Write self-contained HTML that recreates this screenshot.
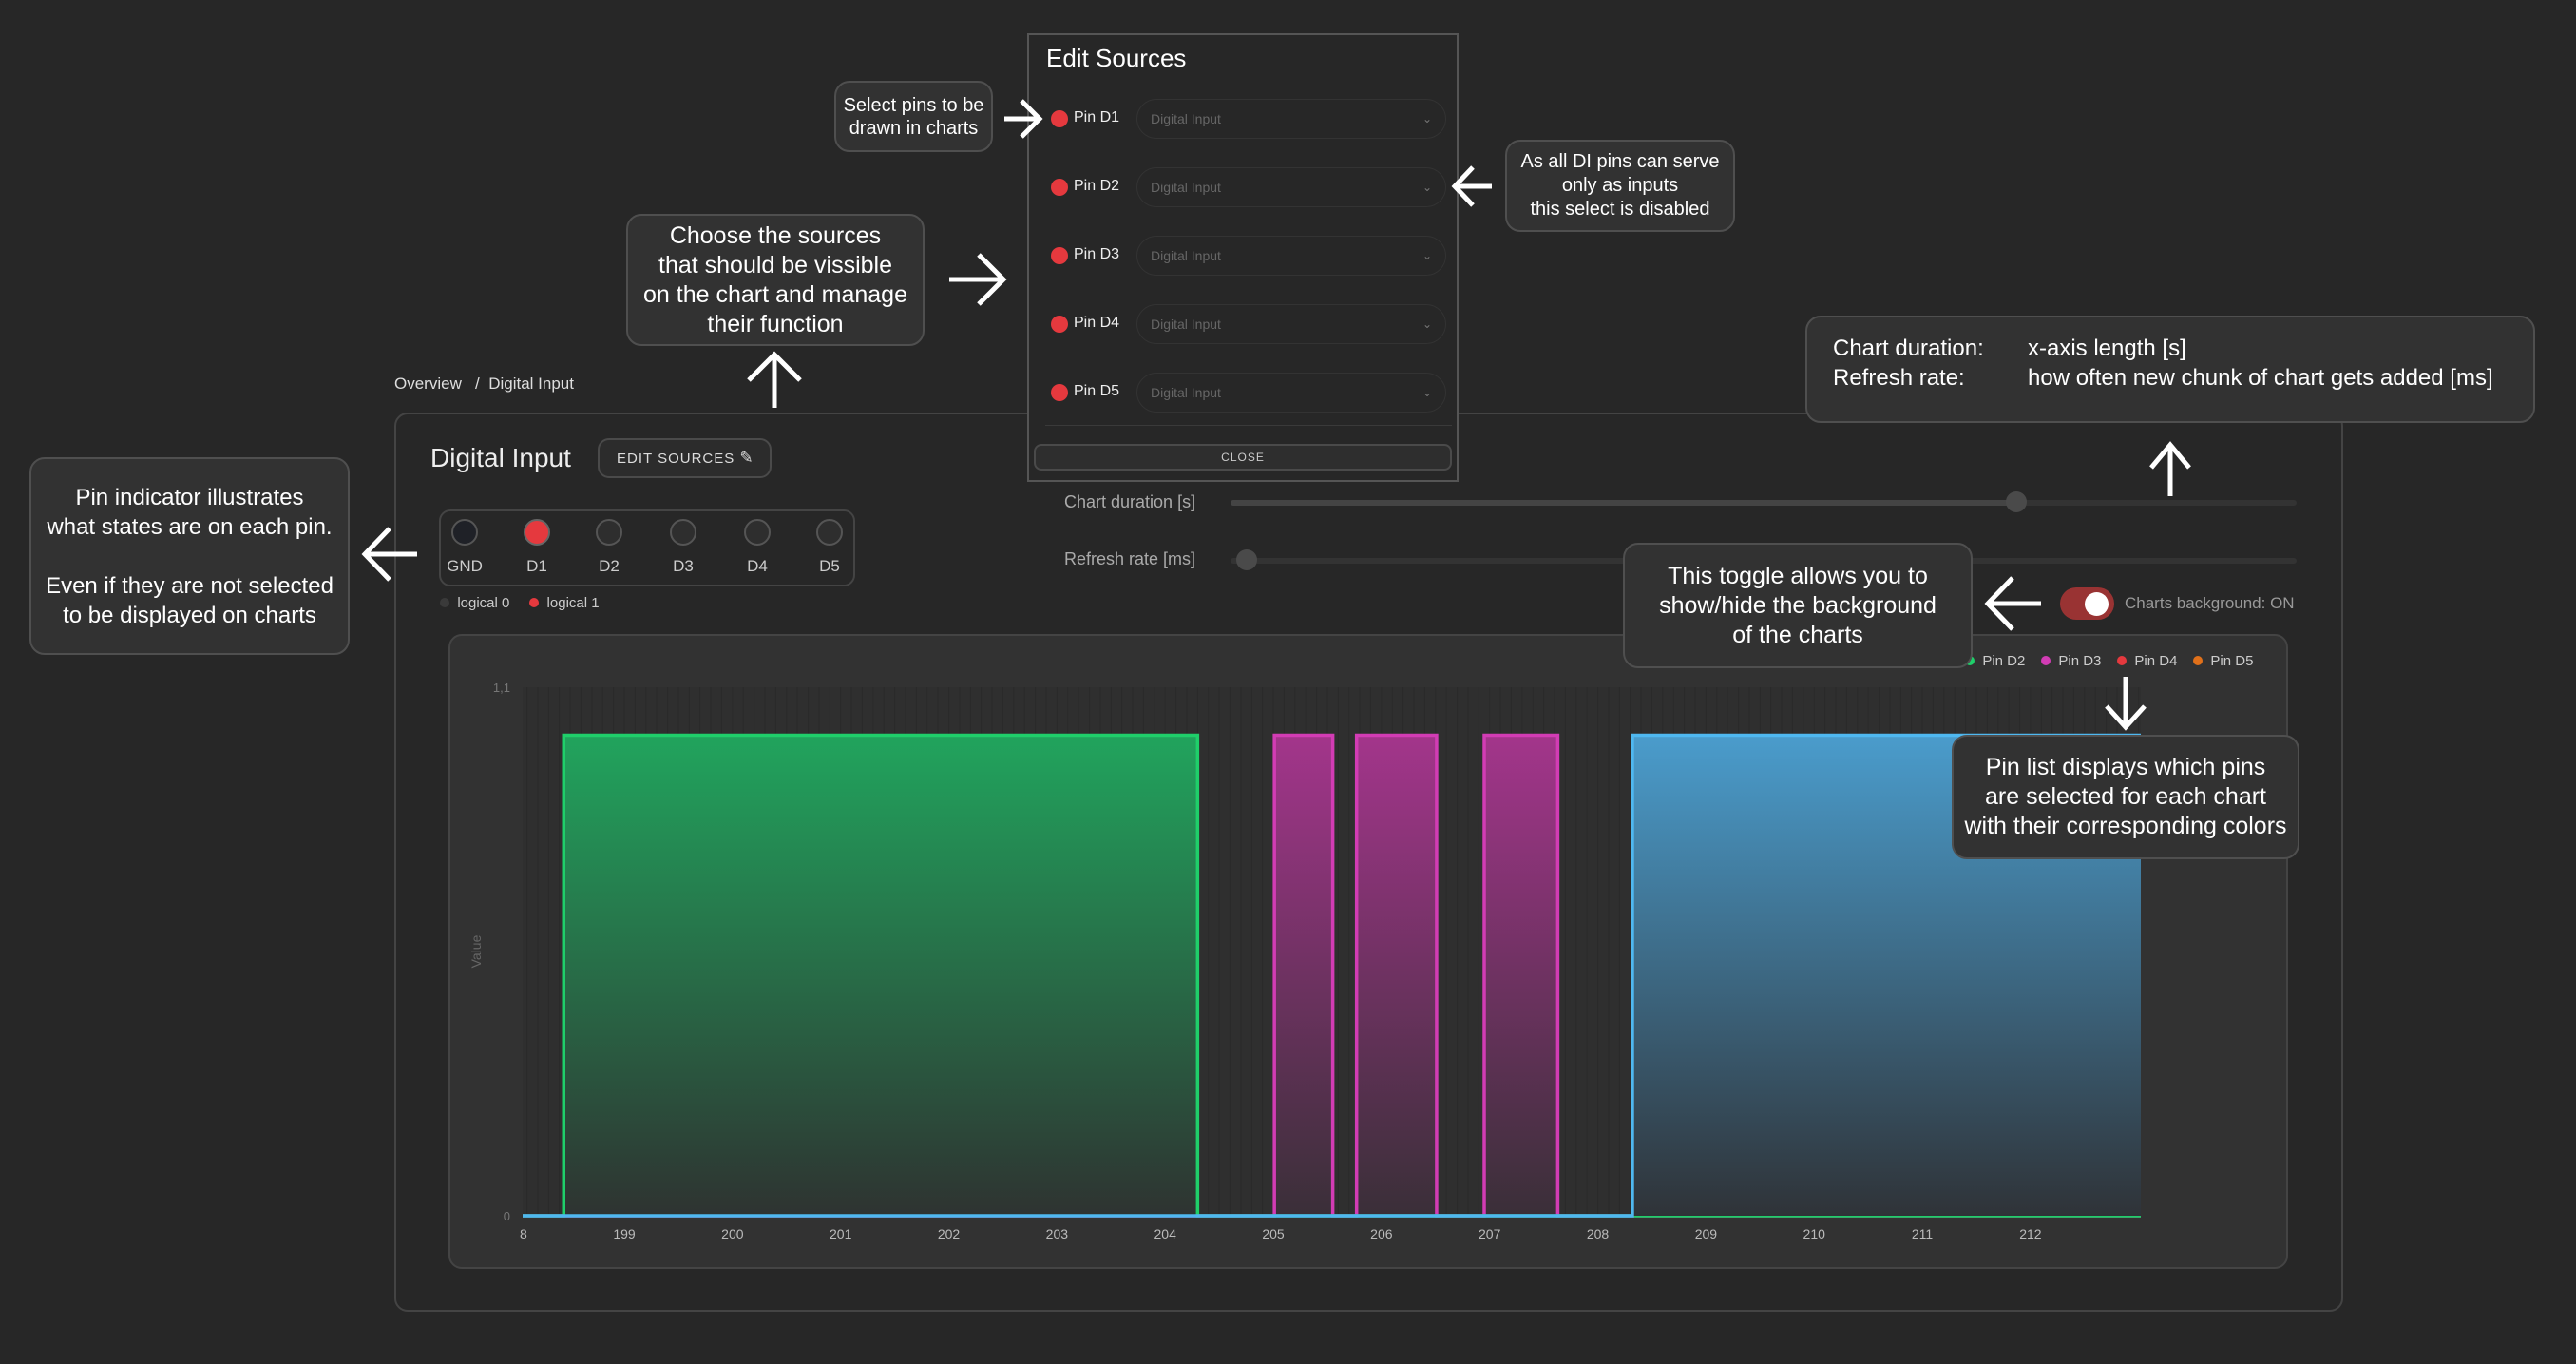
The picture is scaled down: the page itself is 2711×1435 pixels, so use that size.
<!DOCTYPE html>
<html><head><meta charset="utf-8">
<style>
html,body{margin:0;padding:0;}
body{width:2711px;height:1435px;background:#272727;position:relative;overflow:hidden;font-family:"Liberation Sans Narrow","Liberation Sans",sans-serif;color:#ddd;}
.abs{position:absolute;}
.callout{position:absolute;background:#323232;border:2px solid #4f4f4f;border-radius:16px;color:#fff;font-family:"Liberation Sans",sans-serif;text-align:center;box-sizing:border-box;display:flex;align-items:center;justify-content:center;}
.pinc{position:absolute;width:28px;height:28px;border-radius:50%;border:2px solid #555;background:#2e2e2e;box-sizing:border-box;top:546px;}
.pinl{position:absolute;top:586px;font-size:17px;color:#ccc;width:60px;text-align:center;}
.sel{position:absolute;left:1196px;width:326px;height:42px;border:1px solid #333;border-radius:21px;box-sizing:border-box;font-size:14px;color:#666;padding-left:14px;line-height:40px;}
.sel span{position:absolute;right:14px;top:0;color:#777;font-size:12px;}
.rdot{position:absolute;left:1106px;width:18px;height:18px;border-radius:50%;background:#e5393e;}
.rlab{position:absolute;left:1130px;font-size:16px;color:#eee;}
</style></head><body>
<div class="abs" style="left:415px;top:394px;font-size:17px;color:#ddd;"><span>Overview</span>&nbsp;&nbsp; /&nbsp; <span>Digital Input</span></div>

<div class="abs" style="left:415px;top:434px;width:2051px;height:946px;border:2px solid #444;border-radius:14px;box-sizing:border-box;"></div>
<div class="abs" style="left:453px;top:466px;font-size:28px;color:#eee;">Digital Input</div>
<div class="abs" style="left:629px;top:461px;width:183px;height:42px;border:2px solid #4a4a4a;border-radius:12px;box-sizing:border-box;background:#2c2c2c;font-size:15px;letter-spacing:1px;color:#ddd;line-height:38px;padding-left:18px;white-space:nowrap;">EDIT SOURCES <span style="font-size:17px;">&#9998;</span></div>

<div class="abs" style="left:462px;top:536px;width:438px;height:81px;border:2px solid #444;border-radius:12px;box-sizing:border-box;"></div>
<div class="pinc" style="left:475px;background:#1f2127;"></div>
<div class="pinc" style="left:551px;background:#e5393e;border-color:#666;"></div>
<div class="pinc" style="left:627px;"></div>
<div class="pinc" style="left:705px;"></div>
<div class="pinc" style="left:783px;"></div>
<div class="pinc" style="left:859px;"></div>
<div class="pinl" style="left:459px;">GND</div>
<div class="pinl" style="left:535px;">D1</div>
<div class="pinl" style="left:611px;">D2</div>
<div class="pinl" style="left:689px;">D3</div>
<div class="pinl" style="left:767px;">D4</div>
<div class="pinl" style="left:843px;">D5</div>
<div class="abs" style="left:463px;top:626px;font-size:15px;color:#ccc;"><span style="display:inline-block;width:10px;height:10px;border-radius:50%;background:#3a3a3a;"></span>&nbsp; logical 0 &nbsp;&nbsp;&nbsp; <span style="display:inline-block;width:10px;height:10px;border-radius:50%;background:#e5393e;"></span>&nbsp; logical 1</div>

<div class="abs" style="left:1120px;top:518px;font-size:18px;color:#aaa;">Chart duration [s]</div>
<div class="abs" style="left:1295px;top:526px;width:1122px;height:6px;background:#333;border-radius:3px;"><div style="position:absolute;left:0;top:0;width:828px;height:6px;background:#444;border-radius:3px;"></div><div style="position:absolute;left:816px;top:-9px;width:22px;height:22px;border-radius:50%;background:#4a4a4a;"></div></div>
<div class="abs" style="left:1120px;top:578px;font-size:18px;color:#aaa;">Refresh rate [ms]</div>
<div class="abs" style="left:1295px;top:587px;width:1122px;height:6px;background:#333;border-radius:3px;"><div style="position:absolute;left:6px;top:-9px;width:22px;height:22px;border-radius:50%;background:#4a4a4a;"></div></div>

<div class="abs" style="left:2168px;top:618px;width:57px;height:34px;border-radius:17px;background:#993333;"><div style="position:absolute;left:26px;top:5px;width:25px;height:25px;border-radius:50%;background:#fff;"></div></div>
<div class="abs" style="left:2236px;top:625px;font-size:17px;color:#999;">Charts background: ON</div>

<div class="abs" style="left:472px;top:667px;width:1936px;height:668px;background:#323232;border:2px solid #444;border-radius:14px;box-sizing:border-box;"></div>

<svg class="abs" id="chart" style="left:0;top:0;" width="2711" height="1435">
<defs>
<linearGradient id="gG" x1="0" y1="0" x2="0" y2="1"><stop offset="0" stop-color="#21a45d"/><stop offset="1" stop-color="#2e3331"/></linearGradient>
<linearGradient id="gM" x1="0" y1="0" x2="0" y2="1"><stop offset="0" stop-color="#a3358b"/><stop offset="1" stop-color="#3a2f38"/></linearGradient>
<linearGradient id="gB" x1="0" y1="0" x2="0" y2="1"><stop offset="0" stop-color="#4a9ccc"/><stop offset="1" stop-color="#2f3338"/></linearGradient>
</defs>
</svg>

<div class="abs" style="left:2068px;top:687px;font-size:15px;color:#ccc;white-space:nowrap;">
<span><span style="display:inline-block;width:10px;height:10px;border-radius:50%;background:#1fcf6a;"></span>&nbsp; Pin D2</span>&nbsp;&nbsp;&nbsp;
<span><span style="display:inline-block;width:10px;height:10px;border-radius:50%;background:#d23cb4;"></span>&nbsp; Pin D3</span>&nbsp;&nbsp;&nbsp;
<span><span style="display:inline-block;width:10px;height:10px;border-radius:50%;background:#e5393e;"></span>&nbsp; Pin D4</span>&nbsp;&nbsp;&nbsp;
<span><span style="display:inline-block;width:10px;height:10px;border-radius:50%;background:#e0701a;"></span>&nbsp; Pin D5</span>
</div>

<!-- modal -->
<div class="abs" style="left:1081px;top:35px;width:454px;height:472px;background:#272727;border:2px solid #555;box-sizing:border-box;"></div>
<div class="abs" style="left:1101px;top:46px;font-size:26px;color:#fff;">Edit Sources</div>
<div class="rdot" style="top:116px;"></div><div class="rlab" style="top:115px;">Pin D1</div><div class="sel" style="top:104px;">Digital Input<span>&#8964;</span></div>
<div class="rdot" style="top:188px;"></div><div class="rlab" style="top:187px;">Pin D2</div><div class="sel" style="top:176px;">Digital Input<span>&#8964;</span></div>
<div class="rdot" style="top:260px;"></div><div class="rlab" style="top:259px;">Pin D3</div><div class="sel" style="top:248px;">Digital Input<span>&#8964;</span></div>
<div class="rdot" style="top:332px;"></div><div class="rlab" style="top:331px;">Pin D4</div><div class="sel" style="top:320px;">Digital Input<span>&#8964;</span></div>
<div class="rdot" style="top:404px;"></div><div class="rlab" style="top:403px;">Pin D5</div><div class="sel" style="top:392px;">Digital Input<span>&#8964;</span></div>
<div class="abs" style="left:1100px;top:447px;width:428px;height:1px;background:#3a3a3a;"></div>
<div class="abs" style="left:1088px;top:467px;width:440px;height:28px;border:2px solid #4a4a4a;border-radius:8px;box-sizing:border-box;background:#2e2e2e;font-size:12px;color:#ccc;text-align:center;line-height:24px;letter-spacing:1px;">CLOSE</div>

<!-- callouts -->
<div class="callout" style="left:878px;top:85px;width:167px;height:75px;font-size:20px;line-height:24px;">Select pins to be<br>drawn in charts</div>
<div class="callout" style="left:1584px;top:147px;width:242px;height:97px;font-size:20px;line-height:25px;">As all DI pins can serve<br>only as inputs<br>this select is disabled</div>
<div class="callout" style="left:659px;top:225px;width:314px;height:139px;font-size:25px;line-height:31px;">Choose the sources<br>that should be vissible<br>on the chart and manage<br>their function</div>
<div class="callout" style="left:1900px;top:332px;width:768px;height:113px;font-size:24px;line-height:31px;justify-content:flex-start;text-align:left;padding-left:27px;padding-bottom:14px;"><div><span style="display:inline-block;width:205px;">Chart duration:</span>x-axis length [s]<br><span style="display:inline-block;width:205px;">Refresh rate:</span>how often new chunk of chart gets added [ms]</div></div>
<div class="callout" style="left:31px;top:481px;width:337px;height:208px;font-size:24px;line-height:31px;">Pin indicator illustrates<br>what states are on each pin.<br><br>Even if they are not selected<br>to be displayed on charts</div>
<div class="callout" style="left:1708px;top:571px;width:368px;height:132px;font-size:25px;line-height:31px;">This toggle allows you to<br>show/hide the background<br>of the charts</div>
<div class="callout" style="left:2054px;top:773px;width:366px;height:131px;font-size:25px;line-height:31px;">Pin list displays which pins<br>are selected for each chart<br>with their corresponding colors</div>

<svg class="abs" style="left:0;top:0;pointer-events:none;" width="2711" height="1435" fill="none" stroke="#fff" stroke-width="5">
<g><path d="M1057 125 H1093 M1075 106 L1094 125 L1075 144"/></g>
<g><path d="M1570 196 H1532 M1550 176 L1531 196 L1550 216"/></g>
<g><path d="M999 294 H1055 M1030 268 L1056 294 L1030 320"/></g>
<g><path d="M815 429 V373 M788 400 L815 373 L842 400"/></g>
<g><path d="M2284 522 V468 M2264 492 L2284 468 L2304 492"/></g>
<g><path d="M439 583 H384 M410 556 L384 583 L410 610"/></g>
<g><path d="M2148 635 H2092 M2118 608 L2092 635 L2118 662"/></g>
<g><path d="M2237 712 V765 M2217 743 L2237 765 L2257 743"/></g>
</svg>

<script>
const xTicks=[198,199,200,201,202,203,204,205,206,207,208,209,210,211,212];
const yTicks=[0,1.1];
const d2Rise=[198.44], d2Fall=[204.30];
const d3Rise=[205.01,205.77,206.95], d3Fall=[205.55,206.51,207.63];
const d1Rise=[208.32], d1Fall=[213.02];
const xMin=198.06, xMax=213.02, yMin=0, yMax=1.1, seriesHigh=1;

const NS='http://www.w3.org/2000/svg';
const svg=document.getElementById('chart');
const PL=550, PR=2253, PT=723, PB=1279;
function X(v){return PL+(v-xMin)/(xMax-xMin)*(PR-PL);}
function Y(v){return PB-(v-yMin)/(yMax-yMin)*(PB-PT);}
function mk(t,a){const e=document.createElementNS(NS,t);for(const k in a)e.setAttribute(k,a[k]);svg.appendChild(e);return e;}

const bg=mk('rect',{x:PL,y:PT,width:PR-PL,height:PB-PT,fill:'#2f2f2f'});


for(let v=Math.ceil(xMin*10)/10;v<=xMax;v+=0.1){
  const g=mk('line',{x1:X(v),x2:X(v),y1:PT,y2:PB,stroke:'#2a2a2a','stroke-width':1});
  
  
}
xTicks.forEach(t=>{
  const x=X(t);
  const tx=mk('text',{x:x,y:1303,fill:'#bbb','font-size':14,'text-anchor':'middle','font-family':'Liberation Sans, sans-serif'});
  tx.textContent=t;
  if(x<PL){tx.setAttribute('text-anchor','start');tx.setAttribute('x',PL-3);tx.textContent=String(t).slice(-1);}
  
  
});
yTicks.forEach(t=>{
  const tx=mk('text',{x:537,y:Y(t)+5,fill:'#777','font-size':13,'text-anchor':'end','font-family':'Liberation Sans, sans-serif'});
  tx.textContent=String(t).replace('.',',');
  
  
});
const yt=mk('text',{x:0,y:0,fill:'#666','font-size':14,'text-anchor':'middle','font-family':'Liberation Sans, sans-serif',transform:'translate(506,1001) rotate(-90)'});
yt.textContent='Value';



function series(rise,fall,fill,stroke,name){
  rise.forEach((r,i)=>{
    const x1=X(r), x2=X(Math.min(fall[i],xMax));
    const rc=mk('rect',{x:x1,y:Y(seriesHigh),width:x2-x1,height:Y(0)-Y(seriesHigh),fill:fill});
    
    
  });
  let d='M'+X(xMin)+' '+Y(0);
  rise.forEach((r,i)=>{
    d+=' L'+X(r)+' '+Y(0)+' L'+X(r)+' '+Y(seriesHigh);
    const f=Math.min(fall[i],xMax);
    d+=' L'+X(f)+' '+Y(seriesHigh);
    if(fall[i]<xMax) d+=' L'+X(f)+' '+Y(0);
  });
  if(fall[fall.length-1]<xMax) d+=' L'+X(xMax)+' '+Y(0);
  const p=mk('path',{d:d,fill:'none',stroke:stroke,'stroke-width':3.5});
  
  
}
series(d3Rise,d3Fall,'url(#gM)','#d23cb4','series-pin-d3');
series(d2Rise,d2Fall,'url(#gG)','#1fcf6a','series-pin-d2');
series(d1Rise,d1Fall,'url(#gB)','#4fb8f0','series-pin-d1');
</script>
</body></html>
